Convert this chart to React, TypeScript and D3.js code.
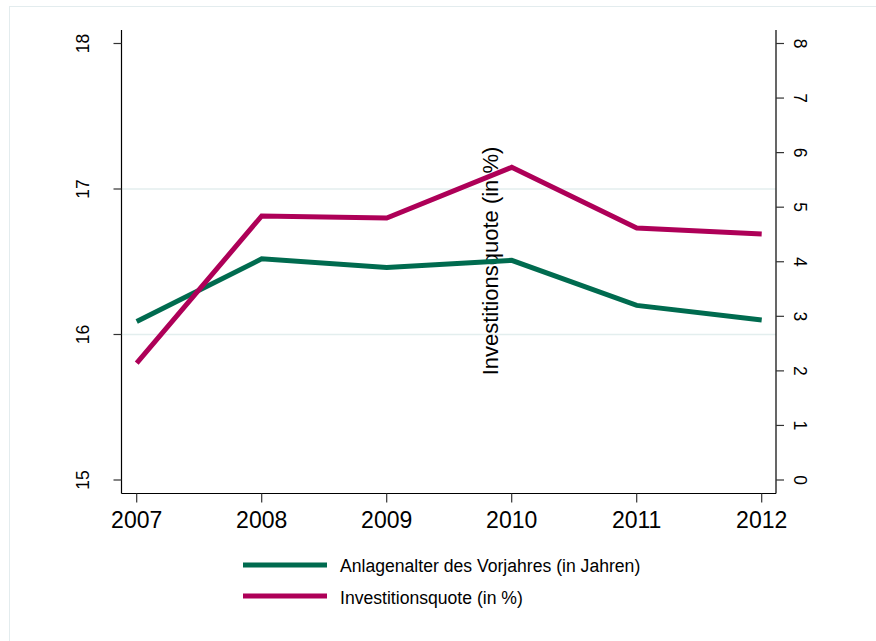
import React from "react";
import * as d3 from "d3";

const years = [2007, 2008, 2009, 2010, 2011, 2012];
const anlagenalter = [16.09, 16.52, 16.46, 16.51, 16.2, 16.1];
const investitionsquote = [2.14, 4.84, 4.8, 5.73, 4.62, 4.51];
const leftTicks = [15, 16, 17, 18];
const leftGrid = [16, 17];
const rightTicks = [0, 1, 2, 3, 4, 5, 6, 7, 8];
const seriesNames = ["Anlagenalter des Vorjahres (in Jahren)", "Investitionsquote (in %)"];
const rightTitle = "Investitionsquote (in %)";

const GREEN = "#006b4f";
const RED = "#ae0058";
const FONT = "'Liberation Sans', Arial, Helvetica, sans-serif";

export default function App() {
  const W = 876, H = 641;
  const plotL = 121.5, plotR = 776, plotT = 30, plotB = 493.5;
  const x = d3.scaleLinear().domain([2007, 2012]).range([136.7, 761.7]);
  const yL = d3.scaleLinear().domain([15, 18]).range([480, 43.5]);
  const yR = d3.scaleLinear().domain([0, 8]).range([480, 43.5]);

  const lineL = d3.line<number>().x((_, i) => x(years[i])).y((d) => yL(d));
  const lineR = d3.line<number>().x((_, i) => x(years[i])).y((d) => yR(d));

  return (
    <svg width={W} height={H} style={{ position: "absolute", left: 0, top: 0, background: "#fff" }} fontFamily={FONT}>
      <rect x={9.5} y={6.5} width={880} height={660} fill="#fff" stroke="#e3ecee" strokeWidth={1} />
      {leftGrid.map((v) => (
        <line key={v} x1={plotL} x2={plotR} y1={yL(v)} y2={yL(v)} stroke="#e3eeee" strokeWidth={1.5} />
      ))}
      <line x1={plotL} x2={plotL} y1={plotT} y2={plotB} stroke="#000" strokeWidth={1.2} />
      <line x1={plotR} x2={plotR} y1={plotT} y2={plotB} stroke="#000" strokeWidth={1.2} />
      <line x1={plotL} x2={plotR} y1={plotB} y2={plotB} stroke="#000" strokeWidth={1.2} />
      {leftTicks.map((v) => (
        <g key={v}>
          <line x1={plotL - 8} x2={plotL} y1={yL(v)} y2={yL(v)} stroke="#333" strokeWidth={1.2} />
          <text transform={`translate(${plotL - 39},${yL(v)}) rotate(-90)`} textAnchor="middle" fontSize={17.5} dy="0.36em">
            {v}
          </text>
        </g>
      ))}
      {rightTicks.map((v) => (
        <g key={v}>
          <line x1={plotR} x2={plotR + 8} y1={yR(v)} y2={yR(v)} stroke="#333" strokeWidth={1.2} />
          <text transform={`translate(${plotR + 24},${yR(v)}) rotate(90)`} textAnchor="middle" fontSize={17.5} dy="0.36em">
            {v}
          </text>
        </g>
      ))}
      {years.map((yr) => (
        <g key={yr}>
          <line x1={x(yr)} x2={x(yr)} y1={plotB} y2={plotB + 9} stroke="#333" strokeWidth={1.2} />
          <text x={x(yr)} y={528} textAnchor="middle" fontSize={23}>
            {yr}
          </text>
        </g>
      ))}
      <text transform={`translate(498,261) rotate(-90)`} textAnchor="middle" fontSize={22}>
        {rightTitle}
      </text>
      <path d={lineL(anlagenalter) || ""} fill="none" stroke={GREEN} strokeWidth={5} strokeLinejoin="miter" />
      <path d={lineR(investitionsquote) || ""} fill="none" stroke={RED} strokeWidth={5} strokeLinejoin="miter" />
      {[GREEN, RED].map((c, i) => (
        <g key={i}>
          <line x1={243} x2={327} y1={565 + i * 31} y2={565 + i * 31} stroke={c} strokeWidth={5} />
          <text x={340} y={572 + i * 31.5} fontSize={17.6}>
            {seriesNames[i]}
          </text>
        </g>
      ))}
    </svg>
  );
}
